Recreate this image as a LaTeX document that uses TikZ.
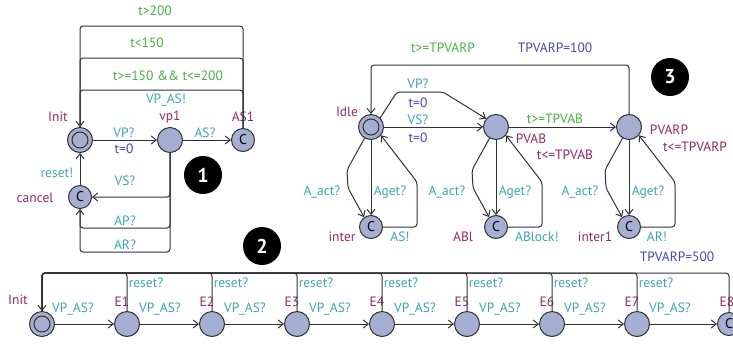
\documentclass[tikz,border=0pt]{standalone}
\usepackage{fontspec}
\setmainfont{PT Sans}
\usetikzlibrary{arrows.meta}
\definecolor{gcol}{RGB}{70,175,70}
\definecolor{scol}{RGB}{60,165,180}
\definecolor{acol}{RGB}{70,70,175}
\definecolor{ncol}{RGB}{150,40,100}
\definecolor{lfill}{RGB}{165,175,210}
\definecolor{lline}{RGB}{50,50,50}
\tikzset{
  loc/.style={circle,draw=lline,fill=lfill,line width=1pt,minimum size=25pt,inner sep=0pt},
  initloc/.style={loc,path picture={\draw[lline,line width=1pt] (path picture bounding box.center) circle (8pt);}},
  comm/.style={loc,minimum size=23pt,font=\fontsize{14}{14}\selectfont,text=black},
  edge/.style={draw=lline,line width=1pt,rounded corners=3pt,-{Straight Barb[length=5pt,width=8pt]}},
  seg/.style={draw=lline,line width=1pt,rounded corners=3pt},
  lab/.style={inner sep=0pt,font=\fontsize{13.5}{14}\selectfont},
  guard/.style={lab,text=gcol},
  sync/.style={lab,text=scol},
  asg/.style={lab,text=acol},
  nam/.style={lab,text=ncol},
  badge/.style={circle,fill=black,minimum size=38pt,inner sep=0pt,text=white,font=\bfseries\fontsize{20}{20}\selectfont}
}
\begin{document}
\begin{tikzpicture}[x=1pt,y=-1pt]
\useasboundingbox (0,0) rectangle (733,346);
\clip (0,0) rectangle (733,346);
% ---------------- automaton 1 ----------------
\node[initloc] (Init1) at (80,140) {};
\node[loc] (vp1) at (170,140) {};
\node[comm] (AS1) at (243,140) {C};
\node[comm] (cancel) at (80,197) {C};
\node[nam] (nInit1) at (58,117) {Init};
\node[nam] (nvp1) at (170,117) {vp1};
\node[nam] (nAS1) at (243,117) {AS1};
\node[nam] (ncancel) at (35,198) {cancel};
\coordinate (a1) at (243,26); \coordinate (a2) at (80,26);
\coordinate (b1) at (243,58); \coordinate (b2) at (80,58);
\coordinate (c1) at (243,90); \coordinate (c2) at (80,90);
\draw[edge] (AS1.north) -- (a1) -- (a2) -- (Init1.north);
\draw[seg] (AS1.north) -- (b1) -- (b2) -- (Init1.north);
\draw[seg] (AS1.north) -- (c1) -- (c2) -- (Init1.north);
\node[guard] (g1) at (155,11) {t>200};
\node[guard] (g2) at (147,43) {t<150};
\node[guard] (g3) at (168,76) {t>=150 \&\& t<=200};
\node[sync] (s1) at (166,100) {VP\_AS!};
\draw[edge] (Init1) -- (vp1);
\node[sync] (s2) at (124,133) {VP?};
\node[asg] (s3) at (124,149) {t=0};
\draw[edge] (vp1) -- (AS1);
\node[sync] (s4) at (205,133) {AS?};
\coordinate (d1) at (170,197);
\coordinate (e1) at (170,228); \coordinate (e2) at (80,228);
\coordinate (f1) at (170,252); \coordinate (f2) at (80,252);
\draw[edge] (vp1.south) -- (d1) -- (cancel.east);
\draw[edge] (vp1.south) -- (e1) -- (e2) -- (cancel.south);
\draw[seg] (vp1.south) -- (f1) -- (f2) -- (cancel.south);
\node[sync] (s5) at (125,181) {VS?};
\node[sync] (s6) at (125,221) {AP?};
\node[sync] (s7) at (125,245) {AR?};
\draw[edge] (cancel) -- (Init1);
\node[sync] (s8) at (57,173) {reset!};
\node[badge] (B1) at (203,175) {1};
% ---------------- automaton 3 ----------------
\node[initloc] (Idle) at (371,127) {};
\node[loc] (PVAB) at (496,127) {};
\node[loc] (PVARP) at (629,127) {};
\node[comm] (inter) at (371,227) {C};
\node[comm] (ABl) at (496,227) {C};
\node[comm] (inter1) at (629,227) {C};
\node[nam] (nIdle) at (347,112) {Idle};
\node[nam] (nPVAB) at (531,139) {PVAB};
\node[nam] (nPVARP) at (669,130) {PVARP};
\node[lab,text=ncol!85!violet] (iPVAB) at (565,155) {t<=TPVAB};
\node[lab,text=ncol!85!violet] (iPVARP) at (695,147) {t<=TPVARP};
\node[nam] (ninter) at (342,237) {inter};
\node[nam] (nABl) at (463,237) {ABl};
\node[nam] (ninter1) at (595,237) {inter1};
\coordinate (h1) at (629,65); \coordinate (h2) at (371,65);
\draw[edge] (PVARP.north) -- (h1) -- (h2) -- (Idle.north);
\node[guard] (g4) at (443,48) {t>=TPVARP};
\node[asg] (a4) at (555,48) {TPVARP=100};
\coordinate (k1) at (397,92); \coordinate (k2) at (443,92);
\draw[edge] (Idle.45) -- (k1) -- (k2) -- (PVAB.140);
\node[sync] (s9) at (418,84) {VP?};
\node[asg] (a5) at (418,103) {t=0};
\draw[edge] (Idle) -- (PVAB);
\node[sync] (s10) at (418,120) {VS?};
\node[asg] (a6) at (418,138) {t=0};
\draw[edge] (PVAB) -- (PVARP);
\node[guard] (g5) at (555,119) {t>=TPVAB};
% loops for each
\foreach \top/\bot/\x in {Idle/inter/371,PVAB/ABl/496,PVARP/inter1/629}{
  \draw[edge] (\top.south) -- (\bot.north);
  \draw[edge] (\top.240) -- (\x-24,170) -- (\x-23,188) -- (\bot.125);
  \draw[edge] (\bot.east) -- (\x+46,227) -- (\x+46,182) -- (\top.-40);
}
\node[sync] (s11) at (390,192) {Aget?};
\node[sync] (s12) at (515,192) {Aget?};
\node[sync] (s13) at (648,192) {Aget?};
\node[sync] (s14) at (322,192) {A\_act?};
\node[sync] (s15) at (447,192) {A\_act?};
\node[sync] (s16) at (580,192) {A\_act?};
\node[sync] (s17) at (400,237) {AS!};
\node[sync] (s18) at (537,237) {ABlock!};
\node[sync] (s19) at (657,237) {AR!};
\node[badge] (B3) at (670,77) {3};
% ---------------- automaton 2 ----------------
\node[initloc] (Init2) at (42,324) {};
\node[nam] (nInit2) at (18,300) {Init};
\foreach \n/\x in {1/127,2/212,3/297,4/382,5/467,6/552,7/637}{
  \node[loc] (E\n) at (\x,324) {};
  \node[nam] (nE\n) at (\x-5,302) {E\n};
}
\node[comm] (E8) at (729,324) {C};
\node[nam] (nE8) at (727,302) {E8};
\draw[edge] (Init2) -- (E1);
\node[sync] (v0) at (73,309) {VP\_AS?};
\foreach \a/\b/\x in {1/2/127,2/3/212,3/4/297,4/5/382,5/6/467,6/7/552,7/8/637}{
  \draw[edge] (E\a) -- (E\b);
  \node[sync] (v\a) at (\x+33,309) {VP\_AS?};
}
\draw[edge] (E1.north) -- (127,273) -- (42,273) -- (Init2.north);
\foreach \n/\x in {2/212,3/297,4/382,5/467,6/552,7/637,8/729}{
  \draw[seg] (E\n.north) -- (\x,273) -- (42,273) -- (Init2.north);
}
\foreach \n/\x in {1/127,2/212,3/297,4/382,5/467,6/552,7/637}{
  \node[sync] (r\n) at (\x+19,283) {reset?};
}
\node[asg] (a7) at (677,257) {TPVARP=500};
\node[badge] (B2) at (262,246) {2};
\end{tikzpicture}
\end{document}
